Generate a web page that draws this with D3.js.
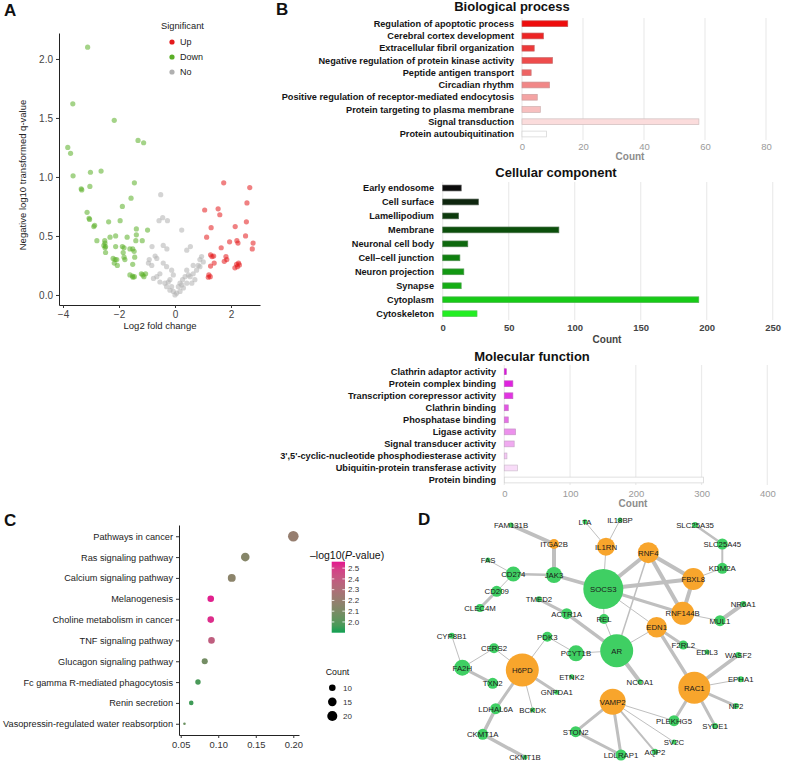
<!DOCTYPE html>
<html><head><meta charset="utf-8">
<script src="https://cdn.jsdelivr.net/npm/d3@7"></script>
<style>body{margin:0;background:#fff} svg{display:block}</style>
</head><body><svg id="chart" width="800" height="763"></svg>
<script>
// ================= DATA =================
// Panel A: volcano plot [log2 fold change, -log10 q]
const volcanoUp = [[1.74,0.95],[2.67,0.91],[2.57,0.78],[1.06,0.72],[1.54,0.73],[1.60,0.68],[2.55,0.62],[1.29,0.57],[2.15,0.58],[1.13,0.49],[2.52,0.50],[1.95,0.45],[2.21,0.46],[2.25,0.44],[2.79,0.44],[1.65,0.40],[2.76,0.39],[1.27,0.34],[1.32,0.325],[1.38,0.33],[1.82,0.325],[1.85,0.30],[1.76,0.285],[1.40,0.27],[1.27,0.245],[1.21,0.17],[1.26,0.155],[1.19,0.15],[2.20,0.26],[2.27,0.27],[2.23,0.24],[2.14,0.23],[2.30,0.255]];
const volcanoDown = [[-3.12,2.10],[-3.65,1.62],[-3.83,1.25],[-3.73,1.20],[-3.64,1.01],[-2.17,1.48],[-1.32,1.31],[-1.12,1.29],[-3.02,1.04],[-2.64,1.05],[-3.35,0.90],[-3.33,0.89],[-3.04,0.92],[-1.45,0.95],[-1.57,0.82],[-1.88,0.75],[-3.14,0.70],[-3.07,0.65],[-3.05,0.64],[-2.37,0.62],[-1.96,0.63],[-2.87,0.59],[-2.90,0.58],[-1.38,0.56],[-0.98,0.55],[-1.38,0.51],[-2.79,0.46],[-2.51,0.46],[-2.50,0.44],[-2.32,0.49],[-2.12,0.50],[-1.71,0.49],[-1.40,0.46],[-1.17,0.46],[-2.54,0.42],[-2.50,0.40],[-2.48,0.41],[-2.48,0.36],[-2.12,0.41],[-1.88,0.41],[-1.82,0.40],[-1.61,0.39],[-1.51,0.39],[-1.85,0.36],[-1.46,0.37],[-1.44,0.32],[-2.21,0.31],[-2.14,0.30],[-2.08,0.30],[-2.17,0.27],[-2.06,0.25],[-1.82,0.32],[-1.79,0.30],[-1.51,0.26],[-1.61,0.17],[-1.52,0.16],[-1.45,0.155],[-1.50,0.15],[-1.20,0.18],[-1.15,0.17],[-1.11,0.155],[-1.05,0.18]];
const volcanoNo = [[-0.51,0.85],[-0.44,0.655],[-0.57,0.63],[-0.27,0.63],[0.24,0.55],[-0.82,0.41],[-0.42,0.42],[-0.29,0.39],[0.55,0.41],[0.42,0.38],[-0.71,0.33],[-0.65,0.31],[-0.95,0.27],[-0.92,0.30],[-0.83,0.25],[-0.42,0.27],[-0.30,0.24],[-0.12,0.21],[-0.06,0.17],[-0.54,0.18],[-0.65,0.155],[-0.77,0.14],[-0.54,0.11],[-0.36,0.10],[-0.30,0.07],[-0.18,0.04],[-0.06,0.03],[0.06,0.015],[0.0,0.0],[0.18,0.03],[0.30,0.06],[0.24,0.085],[0.42,0.10],[0.36,0.155],[0.27,0.13],[0.48,0.17],[0.65,0.18],[0.77,0.21],[0.89,0.30],[0.83,0.25],[0.95,0.325],[1.01,0.28],[0.65,0.25],[0.54,0.155],[0.60,0.10],[0.71,0.13],[0.42,0.21],[-0.18,0.13],[0.18,0.10],[0.12,0.07],[-0.12,0.07],[-0.24,0.11],[0.89,0.24]];
const volcanoXTicks = [-4,-2,0,2];
const volcanoYTicks = [0,0.5,1,1.5,2];
const sigLevels = ["Up","Down","No"];

// Panel B: GO bars
const bpTerms = ["Regulation of apoptotic process","Cerebral cortex development","Extracellular fibril organization","Negative regulation of protein kinase activity","Peptide antigen transport","Circadian rhythm","Positive regulation of receptor-mediated endocytosis","Protein targeting to plasma membrane","Signal transduction","Protein autoubiquitination"];
const bpCounts = [15,7,4,10,3,9,5,6,58,8];
const bpColors = ["#ee0c0c","#ed2424","#ed3939","#ee4c4c","#ef6464","#f18787","#f4a3a3","#f7bfbf","#fbdcdc","#ffffff"];
const bpTicks = [0,20,40,60,80];

const ccTerms = ["Early endosome","Cell surface","Lamellipodium","Membrane","Neuronal cell body","Cell–cell junction","Neuron projection","Synapse","Cytoplasm","Cytoskeleton"];
const ccCounts = [14,27,12,88,19,13,16,14,194,26];
const ccColors = ["#0b0b0b","#0e260e","#0c3a0c","#0b4f0b","#0e690e","#0f800f","#129812","#14ae14","#17cb17","#22ee22"];
const ccTicks = [0,50,100,150,200,250];

const mfTerms = ["Clathrin adaptor activity","Protein complex binding","Transcription corepressor activity","Clathrin binding","Phosphatase binding","Ligase activity","Signal transducer activity","3',5'-cyclic-nucleotide phosphodiesterase activity","Ubiquitin-protein transferase activity","Protein binding"];
const mfCounts = [3,13,13,6,6,17,15,4,20,303];
const mfColors = ["#dd11dd","#e022e0","#e233e2","#e455e4","#e770e7","#ec90ec","#f0aaf0","#f4c6f4","#f8dcf8","#ffffff"];
const mfTicks = [0,100,200,300,400];

// Panel C: KEGG dot plot
const keggTerms = ["Pathways in cancer","Ras signaling pathway","Calcium signaling pathway","Melanogenesis","Choline metabolism in cancer","TNF signaling pathway","Glucagon signaling pathway","Fc gamma R-mediated phagocytosis","Renin secretion","Vasopressin-regulated water reabsorption"];
const keggRatio = [0.200,0.136,0.118,0.090,0.090,0.091,0.082,0.073,0.064,0.055];
const keggCount = [22,15,13,10,10,10,9,8,7,6];
const keggLogP = [2.20,2.14,2.16,2.55,2.53,2.38,2.08,1.97,1.95,2.05];
const keggXTicks = [0.05,0.10,0.15,0.20];
const pvalTicks = [2.0,2.1,2.2,2.3,2.4,2.5];
const countLegend = [10,15,20];

// Panel D: PPI network  [name, layoutX, layoutY, size, hub]
const netNodes = [
 ["FAM131B",111,20,2.5,0],["ITGA2B",154,39,5,1],["FAS",88,55,2.5,0],["CD274",113.3,69,7.5,0],["JAK3",154,70,8,0],
 ["CD209",96.7,86.3,5.5,0],["CLEC4M",80,103,4,0],["TMED2",139,94.3,3,0],["ACTR1A",166.7,108.7,5.5,0],["LTA",185,16.7,2.5,0],
 ["IL18BP",220,15,2.5,0],["IL1RN",206,41.7,9,1],["RNF4",248.3,47.7,10.5,1],["SOCS3",203.3,84,20,0],["FBXL8",293.3,74,11,1],
 ["RNF144B",282.7,108.3,11.5,1],["REL",204,114,5,0],["EDN1",256.7,122.3,10.3,1],["AR",216.7,145.7,16.5,0],["PDK3",147.3,131.7,5,0],
 ["PCYT1B",176,148.3,8,0],["F2RL2",283.3,140,4.5,0],["EDIL3",307,147,2.5,0],["SLC25A35",295,20,3,0],["SLC25A45",322.3,39,5.5,0],
 ["KDM2A",322.3,63.3,5.5,0],["NR6A1",343.3,99,3,0],["MUL1",320,115.7,5.5,0],["CYP8B1",51.7,130.7,3,0],["CERS2",94,143.3,5,0],
 ["FA2H",62.3,162.7,8,0],["H6PD",122.3,165,16.5,1],["TXN2",92.7,178.3,5.5,0],["ETNK2",171.7,171.7,2.5,0],["GNPDA1",156.7,187.3,2.5,0],
 ["LDHAL6A",95.7,203.7,5.5,0],["BCKDK",132.7,205,2.5,0],["CKMT1A",82.7,229.3,5.5,0],["CKMT1B",125,252.3,2.5,0],["STON2",175.7,226.7,5.5,0],
 ["WASF2",338.3,150,3,0],["NCOA1",240,176.7,2.5,0],["RAC1",294.3,182.7,16,1],["EPHA1",340.7,174.3,3,0],["VAMP2",212.7,196.7,13,1],
 ["NF2",336,201,3,0],["PLEKHG5",274,215.7,5.5,0],["SYDE1",315,221,3,0],["SV2C",274,237,2.5,0],["AQP2",255,246.7,3,0],["LDLRAP1",221,250,5.5,0]
];
const netEdges = [
 ["FAM131B","ITGA2B",4],["ITGA2B","JAK3",4],["JAK3","CD274",2.5],["JAK3","SOCS3",3.5],["FAS","CD274",1],["CD274","CD209",1],
 ["CD209","CLEC4M",3],["LTA","IL1RN",1],["IL18BP","IL1RN",1],["IL1RN","SOCS3",1],["SOCS3","RNF4",4],["SOCS3","FBXL8",4],
 ["SOCS3","RNF144B",3],["SOCS3","EDN1",1],["SOCS3","REL",1],["REL","AR",1],["RNF4","FBXL8",4],["RNF4","RNF144B",4],
 ["RNF4","AR",1.5],["FBXL8","RNF144B",4],["FBXL8","KDM2A",1],["RNF144B","MUL1",1],["MUL1","NR6A1",4],["SLC25A35","SLC25A45",2.5],
 ["SLC25A45","KDM2A",2],["TMED2","ACTR1A",3],["ACTR1A","AR",3.5],["AR","EDN1",1],["AR","PCYT1B",1],["AR","NCOA1",4],
 ["EDN1","F2RL2",3],["EDN1","RAC1",3.5],["F2RL2","EDIL3",1],["PDK3","PCYT1B",1],["PDK3","H6PD",1],["H6PD","CERS2",1],
 ["H6PD","GNPDA1",3],["H6PD","BCKDK",1],["H6PD","LDHAL6A",3],["CERS2","FA2H",1],["FA2H","CYP8B1",1],["FA2H","TXN2",3],
 ["LDHAL6A","CKMT1A",3.5],["CKMT1A","CKMT1B",3.5],["VAMP2","STON2",3],["VAMP2","LDLRAP1",3],["STON2","LDLRAP1",3],
 ["VAMP2","AQP2",2],["VAMP2","SV2C",1],["VAMP2","PLEKHG5",1],["RAC1","PLEKHG5",3],["RAC1","WASF2",3.5],["RAC1","EPHA1",1],
 ["RAC1","NF2",3],["RAC1","SYDE1",3]
];

// ================= DRAW =================
const FONT = "'Liberation Sans', Arial, Helvetica, sans-serif";
const svg = d3.select("#chart").attr("font-family", FONT);

function styleAxis(g, fs, col, lineCol) {
  g.attr("font-family", FONT).attr("font-size", fs);
  g.selectAll("text").attr("fill", col);
  g.selectAll(".tick line").attr("stroke", lineCol || "#333");
  g.select(".domain").attr("stroke", lineCol || "#222");
}

// panel letters
[["A",4,16],["B",276,15],["C",4,526],["D",418,525]].forEach(([t,x,y]) =>
  svg.append("text").attr("x",x).attr("y",y).attr("font-size",17).attr("font-weight","bold").attr("fill","#111").text(t));

// ---------- Panel A ----------
(function(){
  const g = svg.append("g");
  const x = d3.scaleLinear().domain([-4.143, 3.036]).range([59, 260]);
  const y = d3.scaleLinear().domain([-0.085, 2.22]).range([305, 33]);
  const col = {Up:"#e41a1c", Down:"#5aae27", No:"#b0b0b0"};
  [["No",volcanoNo],["Down",volcanoDown],["Up",volcanoUp]].forEach(([k,pts]) => {
    g.append("g").selectAll("circle").data(pts).join("circle")
      .attr("cx", d => x(d[0])).attr("cy", d => y(d[1])).attr("r", 2.6)
      .attr("fill", col[k]).attr("fill-opacity", 0.55);
  });
  const ax = g.append("g").attr("transform","translate(0,305)")
    .call(d3.axisBottom(x).tickValues(volcanoXTicks).tickSize(3).tickSizeOuter(0).tickFormat(d3.format("d")));
  styleAxis(ax, 10, "#444");
  const ay = g.append("g").attr("transform","translate(59,0)")
    .call(d3.axisLeft(y).tickValues(volcanoYTicks).tickSize(3).tickSizeOuter(0).tickFormat(d3.format(".1f")));
  styleAxis(ay, 10, "#444");
  g.append("text").attr("x", 160).attr("y", 329).attr("text-anchor","middle").attr("font-size",9.5).attr("fill","#222").text("Log2 fold change");
  g.append("text").attr("transform","translate(26,175) rotate(-90)").attr("text-anchor","middle").attr("font-size",9.5).attr("fill","#222").text("Negative log10 transformed q-value");
  // legend
  g.append("text").attr("x",161).attr("y",28.5).attr("font-size",9.3).attr("fill","#222").text("Significant");
  const ly = d3.scalePoint().domain(sigLevels).range([42, 72]);
  sigLevels.forEach(k => {
    g.append("circle").attr("cx",172).attr("cy",ly(k)).attr("r",2.6).attr("fill",col[k]);
    g.append("text").attr("x",180).attr("y",ly(k)).attr("dy","0.35em").attr("font-size",9).attr("fill","#222").text(k);
  });
})();

// ---------- Panel B ----------
function barPanel(o) {
  const g = svg.append("g");
  const x = d3.scaleLinear().domain([0, o.max]).range([o.x0, o.x1]);
  const y = d3.scalePoint().domain(o.terms).range([o.yTop, o.yBot]);
  g.append("g").selectAll("line").data(o.ticks).join("line")
    .attr("x1", d => x(d)).attr("x2", d => x(d)).attr("y1", o.gridTop).attr("y2", o.gridBot)
    .attr("stroke", "#ebebeb").attr("stroke-width", 1.2);
  const h = 5.8;
  g.append("g").selectAll("rect").data(o.terms).join("rect")
    .attr("x", x(0)).attr("y", d => y(d) - h/2)
    .attr("width", (d,i) => x(o.counts[i]) - x(0)).attr("height", h)
    .attr("fill", (d,i) => o.colors[i])
    .attr("stroke", (d,i) => d3.interpolateRgb(o.colors[i], "#9a9a9a")(0.45)).attr("stroke-width", 0.7);
  g.append("g").selectAll("text").data(o.terms).join("text")
    .attr("x", o.labelX).attr("y", d => y(d)).attr("dy","0.35em")
    .attr("text-anchor","end").attr("font-size", 9.2).attr("font-weight","bold").attr("fill","#151515").text(d => d);
  const ax = g.append("g").attr("transform", `translate(0,${o.tickY - 6.6})`)
    .call(d3.axisBottom(x).tickValues(o.ticks).tickSize(0).tickFormat(d3.format("d")));
  ax.select(".domain").remove();
  styleAxis(ax, 9.5, o.tickColor);
  ax.selectAll("text").attr("font-weight", o.tickBold ? "bold" : "normal");
  g.append("text").attr("x", o.countX).attr("y", o.countY).attr("dy","0.35em").attr("text-anchor","middle")
    .attr("font-size", 10).attr("font-weight","bold").attr("fill", o.countColor).text("Count");
  g.append("text").attr("x", o.titleX).attr("y", o.titleY).attr("text-anchor","middle")
    .attr("font-size", 13).attr("font-weight","bold").attr("fill","#111").text(o.title);
}
barPanel({terms: bpTerms, counts: bpCounts, colors: bpColors, ticks: bpTicks, max: 80, x0: 522, x1: 766,
  yTop: 23.7, yBot: 134, gridTop: 18, gridBot: 140, labelX: 514, tickY: 147, tickColor: "#9a9a9a",
  countX: 630, countY: 156, countColor: "#8c8c8c", title: "Biological process", titleX: 512, titleY: 11});
barPanel({terms: ccTerms, counts: ccCounts, colors: ccColors, ticks: ccTicks, max: 250, x0: 442.7, x1: 772.7,
  yTop: 188, yBot: 313.7, gridTop: 182, gridBot: 320, labelX: 434, tickY: 328.3, tickColor: "#444", tickBold: true,
  countX: 607, countY: 339, countColor: "#444", title: "Cellular component", titleX: 556, titleY: 177});
barPanel({terms: mfTerms, counts: mfCounts, colors: mfColors, ticks: mfTicks, max: 400, x0: 504.3, x1: 767.3,
  yTop: 371.7, yBot: 480, gridTop: 365, gridBot: 485, labelX: 496, tickY: 494, tickColor: "#9a9a9a",
  countX: 633, countY: 503.5, countColor: "#8c8c8c", title: "Molecular function", titleX: 532, titleY: 361});

// ---------- Panel C ----------
(function(){
  const g = svg.append("g");
  const x = d3.scaleLinear().domain([0.0477, 0.2076]).range([179, 299]);
  const y = d3.scalePoint().domain(keggTerms).range([525, 735]).padding(0.54);
  const color = d3.scaleLinear().domain([1.9, 2.56]).range(["#10a052", "#e3168e"]).interpolate(d3.interpolateLab);
  const rNorm = d3.scaleLinear().domain([0, 1]).range([1.3, 5.3]);
  const r = c => rNorm(Math.sqrt((c - 6) / 16));
  const ax = g.append("g").attr("transform","translate(0,735)")
    .call(d3.axisBottom(x).tickValues(keggXTicks).tickSize(3).tickSizeOuter(0).tickFormat(d3.format(".2f")));
  styleAxis(ax, 9.4, "#333");
  const ay = g.append("g").attr("transform","translate(179,0)")
    .call(d3.axisLeft(y).tickSize(3).tickSizeOuter(0));
  styleAxis(ay, 9.2, "#222");
  g.append("g").selectAll("circle").data(keggTerms).join("circle")
    .attr("cx", (d,i) => x(keggRatio[i])).attr("cy", d => y(d))
    .attr("r", (d,i) => r(keggCount[i])).attr("fill", (d,i) => color(keggLogP[i]));
  // colourbar
  const cy = d3.scaleLinear().domain([1.9, 2.56]).range([632.7, 561.7]);
  const grad = svg.append("defs").append("linearGradient").attr("id","pgrad")
    .attr("x1","0").attr("y1","1").attr("x2","0").attr("y2","0");
  d3.range(0, 1.0001, 0.1).forEach(t => grad.append("stop").attr("offset", t)
    .attr("stop-color", color(1.9 + t * 0.66)));
  g.append("rect").attr("x",331.7).attr("y",cy(2.56)).attr("width",13.3).attr("height",cy(1.9)-cy(2.56)).attr("fill","url(#pgrad)");
  pvalTicks.forEach(v => {
    g.append("line").attr("x1",331.7).attr("x2",334.3).attr("y1",cy(v)).attr("y2",cy(v)).attr("stroke","#fff").attr("stroke-width",0.8);
    g.append("line").attr("x1",342.4).attr("x2",345).attr("y1",cy(v)).attr("y2",cy(v)).attr("stroke","#fff").attr("stroke-width",0.8);
    g.append("text").attr("x",348).attr("y",cy(v)).attr("dy","0.35em").attr("font-size",8).attr("fill","#333").text(d3.format(".1f")(v));
  });
  const tt = g.append("text").attr("x",310).attr("y",558.5).attr("font-size",10.5).attr("fill","#111");
  tt.append("tspan").text("–log10(");
  tt.append("tspan").attr("font-style","italic").text("P");
  tt.append("tspan").text("-value)");
  // size legend
  g.append("text").attr("x",337.5).attr("y",674.5).attr("text-anchor","middle").attr("font-size",8.8).attr("fill","#111").text("Count");
  const ly = d3.scalePoint().domain(countLegend).range([687.7, 716]);
  countLegend.forEach(c => {
    g.append("circle").attr("cx",332.3).attr("cy",ly(c)).attr("r",r(c)).attr("fill","#000");
    g.append("text").attr("x",343).attr("y",ly(c)).attr("dy","0.35em").attr("font-size",8).attr("fill","#333").text(c);
  });
})();

// ---------- Panel D ----------
(function(){
  const g = svg.append("g");
  const x = d3.scaleLinear().domain([0, 400]).range([400, 800]);
  const y = d3.scaleLinear().domain([0, 258]).range([505, 763]);
  const byName = new Map(netNodes.map(n => [n[0], n]));
  g.append("g").selectAll("line").data(netEdges).join("line")
    .attr("x1", d => x(byName.get(d[0])[1])).attr("y1", d => y(byName.get(d[0])[2]))
    .attr("x2", d => x(byName.get(d[1])[1])).attr("y2", d => y(byName.get(d[1])[2]))
    .attr("stroke", "#bfbfbf").attr("stroke-width", d => d[2]).attr("stroke-linecap","round");
  g.append("g").selectAll("circle").data(netNodes).join("circle")
    .attr("cx", d => x(d[1])).attr("cy", d => y(d[2])).attr("r", d => d[3])
    .attr("fill", d => d[4] ? "#f8a52c" : "#3fcf63");
  g.append("g").selectAll("text").data(netNodes).join("text")
    .attr("x", d => x(d[1])).attr("y", d => y(d[2])).attr("dy","0.36em").attr("text-anchor","middle")
    .attr("font-size", 7.8).attr("fill","#1a1a1a").text(d => d[0]);
})();
</script>
</body></html>
